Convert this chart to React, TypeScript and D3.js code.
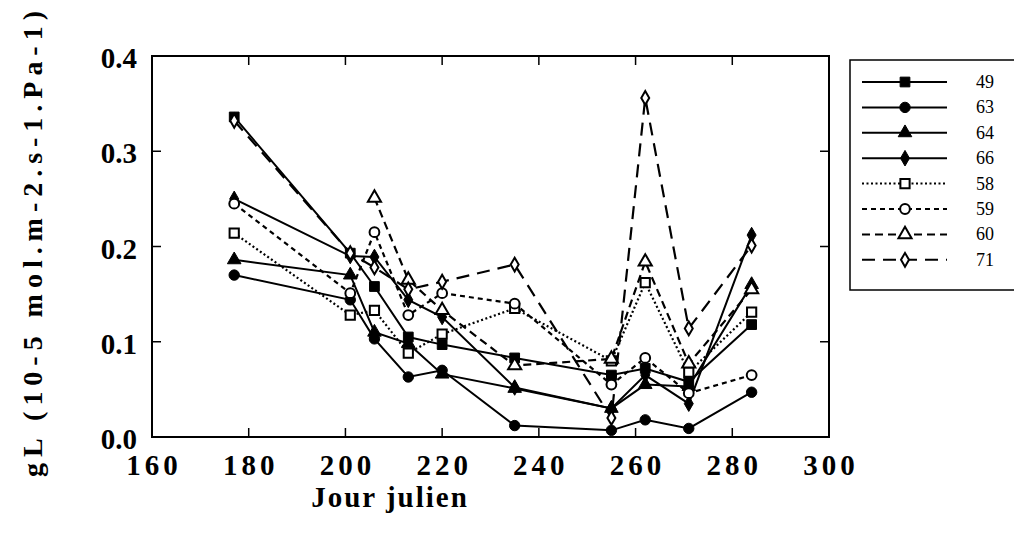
import React from "react";
import * as d3 from "d3";

// jours juliens des mesures
const days = [177, 201, 206, 213, 220, 235, 255, 262, 271, 284];

const s49 = [0.336, 0.193, 0.158, 0.105, 0.097, 0.083, 0.065, 0.072, 0.058, 0.118];
const s63 = [0.17, 0.144, 0.103, 0.063, 0.07, 0.012, 0.007, 0.018, 0.009, 0.047];
const s64 = [0.186, 0.17, 0.11, 0.098, 0.066, 0.051, 0.03, 0.055, 0.053, 0.16];
const s66 = [0.25, 0.19, 0.189, 0.144, 0.126, 0.052, 0.03, 0.065, 0.035, 0.212];
const s58 = [0.214, 0.128, 0.133, 0.088, 0.108, 0.135, 0.08, 0.162, 0.068, 0.131];
const s59 = [0.245, 0.151, 0.215, 0.128, 0.151, 0.14, 0.055, 0.083, 0.046, 0.065];
const s60 = [null, null, 0.251, 0.165, 0.133, 0.075, 0.082, 0.184, 0.077, 0.155];
const s71 = [0.332, 0.193, 0.178, 0.155, 0.163, 0.181, 0.02, 0.356, 0.114, 0.201];

const xTicks = [160, 180, 200, 220, 240, 260, 280, 300];
const yTicks = [0.0, 0.1, 0.2, 0.3, 0.4];

const series = [
  { name: "49", values: s49, symbol: d3.symbolSquare, size: 95, filled: true, dash: null },
  { name: "63", values: s63, symbol: d3.symbolCircle, size: 85, filled: true, dash: null },
  { name: "64", values: s64, symbol: d3.symbolTriangle, size: 80, filled: true, dash: null },
  { name: "66", values: s66, symbol: d3.symbolDiamond, size: 70, filled: true, dash: null },
  { name: "58", values: s58, symbol: d3.symbolSquare, size: 85, filled: false, dash: "2,2.5" },
  { name: "59", values: s59, symbol: d3.symbolCircle, size: 75, filled: false, dash: "5,4" },
  { name: "60", values: s60, symbol: d3.symbolTriangle, size: 75, filled: false, dash: "8,5" },
  { name: "71", values: s71, symbol: d3.symbolDiamond, size: 55, filled: false, dash: "13,8" },
];

const left = 152, right = 829, top = 56, bottom = 437;
const serif = "Liberation Serif, Times New Roman, DejaVu Serif, serif";

export default function App() {
  const x = d3.scaleLinear().domain([160, 300]).range([left, right]);
  const y = d3.scaleLinear().domain([0, 0.4]).range([bottom, top]);

  const line = d3
    .line<[number, number | null]>()
    .defined((d) => d[1] != null)
    .x((d) => x(d[0]))
    .y((d) => y(d[1] as number));

  return (
    <svg width={1022} height={534} style={{ display: "block", margin: "-8px 0 0 -8px", background: "#fff", fontFamily: serif }}>
      <rect x={0} y={0} width={1022} height={542} fill="#fff" />
      {/* cadre et graduations */}
      <rect x={left} y={top} width={right - left} height={bottom - top} fill="none" stroke="#000" strokeWidth={2} />
      {xTicks.slice(1, -1).map((t) => (
        <g key={"xt" + t}>
          <line x1={x(t)} x2={x(t)} y1={bottom} y2={bottom - 9} stroke="#000" strokeWidth={1.5} />
          <line x1={x(t)} x2={x(t)} y1={top} y2={top + 9} stroke="#000" strokeWidth={1.5} />
        </g>
      ))}
      {yTicks.slice(1, -1).map((t) => (
        <g key={"yt" + t}>
          <line x1={left} x2={left + 9} y1={y(t)} y2={y(t)} stroke="#000" strokeWidth={1.5} />
          <line x1={right} x2={right - 9} y1={y(t)} y2={y(t)} stroke="#000" strokeWidth={1.5} />
        </g>
      ))}
      {xTicks.map((t) => (
        <text key={"xl" + t} x={x(t) + 2} y={475} textAnchor="middle" fontWeight="bold"
          fontSize={29} letterSpacing={4}>
          {t}
        </text>
      ))}
      {yTicks.map((t) => (
        <text key={"yl" + t} x={137} y={y(t) + 12} textAnchor="end" fontWeight="bold"
          fontSize={29}>
          {t.toFixed(1)}
        </text>
      ))}
      <text x={390} y={507} textAnchor="middle" fontWeight="bold" fontSize={29} letterSpacing={2}>
        Jour julien
      </text>
      <text transform="translate(42,244) rotate(-90)" textAnchor="middle" fontWeight="bold"
        fontSize={28} textLength={466} lengthAdjust="spacing">
        gL  (10-5  mol.m-2.s-1.Pa-1)
      </text>

      {/* courbes */}
      {series.map((s) => (
        <path key={"l" + s.name} d={line(days.map((d, i) => [d, s.values[i]]) as any) || ""} fill="none"
          stroke="#000" strokeWidth={s.dash ? 2.2 : 2} strokeDasharray={s.dash || undefined} />
      ))}
      {series.map((s) =>
        days.map((d, i) =>
          s.values[i] == null ? null : (
            <path key={"m" + s.name + i} transform={`translate(${x(d)},${y(s.values[i] as number)})`}
              d={d3.symbol(s.symbol, s.size)() || ""} fill={s.filled ? "#000" : "#fff"} stroke="#000"
              strokeWidth={s.filled ? 1 : 2} />
          )
        )
      )}

      {/* légende */}
      <rect x={850} y={60} width={165} height={230} fill="none" stroke="#000" strokeWidth={1.5} />
      {series.map((s, i) => {
        const ly = 82 + i * 25.4;
        return (
          <g key={"lg" + s.name}>
            <line x1={862} x2={947} y1={ly} y2={ly} stroke="#000" strokeWidth={2} strokeDasharray={s.dash || undefined} />
            <path transform={`translate(${905},${ly})`} d={d3.symbol(s.symbol, s.size)() || ""}
              fill={s.filled ? "#000" : "#fff"} stroke="#000" strokeWidth={s.filled ? 1 : 2} />
            <text x={976} y={ly + 6} fontSize={18}>
              {s.name}
            </text>
          </g>
        );
      })}
    </svg>
  );
}
